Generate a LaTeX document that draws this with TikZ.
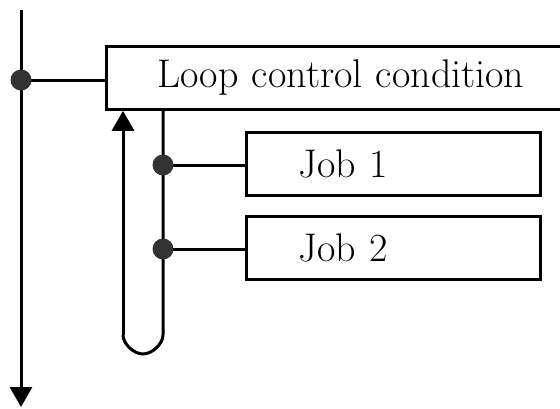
\documentclass[tikz,border=0pt]{standalone}
\usetikzlibrary{arrows.meta}
\begin{document}
\begin{tikzpicture}[x=1pt,y=-1pt,line width=3pt,
  box/.style={draw,line width=2.8pt,rectangle,minimum height=63pt,align=left,
    font=\fontsize{40}{44}\selectfont},
  dot/.style={circle,fill=black!80,minimum size=21pt,inner sep=0pt},
  tip/.style={-{Triangle[length=20pt,width=22pt]}}]
\useasboundingbox (0,0) rectangle (560,408);
\clip (0,0) rectangle (560,408);
\fill[white] (0,0) rectangle (560,408);
% boxes
\node[box,anchor=north west,inner xsep=51pt,text width=378pt] (cond) at (105,45) {Loop control condition};
\node[box,anchor=north west,inner xsep=52pt,text width=190pt] (job1) at (245,131) {Job 1};
\node[box,anchor=north west,inner xsep=52pt,text width=190pt] (job2) at (245,215) {Job 2};
% coordinates
\coordinate (top) at (21,10);
\coordinate (bot) at (21,407);
\coordinate (p0) at (21,80);
\coordinate (p1) at (163,165);
\coordinate (p2) at (163,249);
\coordinate (lr) at (163,335);
\coordinate (lb) at (143,354);
\coordinate (ll) at (123,335);
% main flow
\draw[tip] (top) -- (bot);
\draw (p0) -- (p0 -| cond.west);
% loop
\draw (cond.south -| p1) -- (lr)
  .. controls (163,344) and (152,354) .. (lb)
  .. controls (134,354) and (123,344) .. (ll);
\draw[tip] (ll) -- (cond.south -| ll);
\draw (p1) -- (p1 -| job1.west);
\draw (p2) -- (p2 -| job2.west);
% dots
\node[dot] (d0) at (p0) {};
\node[dot] (d1) at (p1) {};
\node[dot] (d2) at (p2) {};
\end{tikzpicture}
\end{document}
